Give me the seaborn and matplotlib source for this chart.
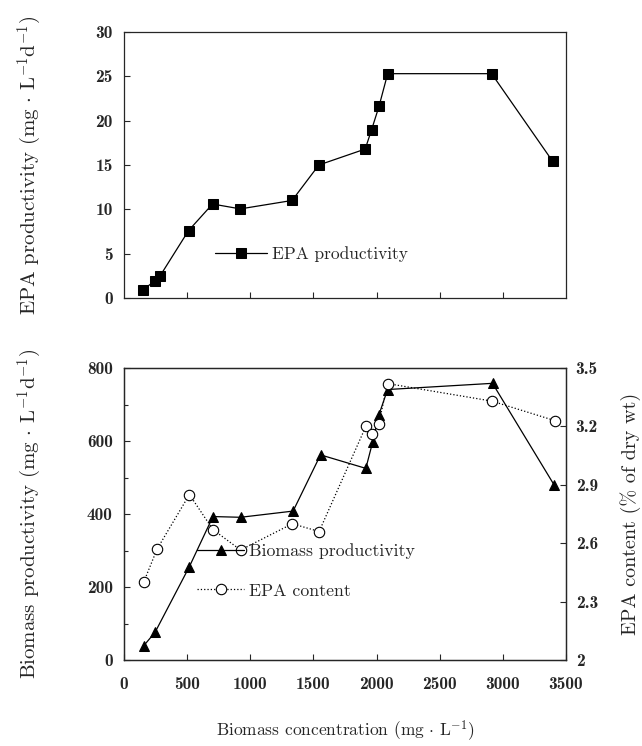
import numpy as np
import matplotlib
matplotlib.use("Agg")
import matplotlib.pyplot as plt
from matplotlib.ticker import MultipleLocator
import seaborn as sns

# top panel: EPA productivity vs biomass concentration
epa_prod_x = [153, 246, 286, 511, 701, 921, 1331, 1543, 1910, 1961, 2019, 2088, 2911, 3395]
epa_prod_y = [0.95, 1.95, 2.5, 7.6, 10.6, 10.05, 11.0, 15.0, 16.8, 19.0, 21.6, 25.3, 25.3, 15.4]

# bottom panel: biomass productivity (left) and EPA content (right)
bio_x = [156, 246, 518, 704, 923, 1339, 1556, 1915, 1968, 2018, 2087, 2918, 3407]
bio_y = [39, 76, 256, 393, 391, 408, 562, 525, 596, 671, 741, 758, 479]
epa_cont_x = [156, 262, 518, 704, 923, 1333, 1545, 1915, 1960, 2016, 2087, 2913, 3410]
epa_cont_y = [2.40, 2.57, 2.85, 2.67, 2.565, 2.70, 2.66, 3.20, 3.16, 3.21, 3.42, 3.33, 3.23]

x_ticks = [0, 500, 1000, 1500, 2000, 2500, 3000, 3500]
top_y_ticks = [0, 5, 10, 15, 20, 25, 30]
left_y_ticks = [0, 200, 400, 600, 800]
right_y_ticks = [2.0, 2.3, 2.6, 2.9, 3.2, 3.5]
right_y_labels = ["2", "2.3", "2.6", "2.9", "3.2", "3.5"]

sns.set_style("ticks")
plt.rcParams["font.family"] = ["cmr10", "DejaVu Serif"]
plt.rcParams["mathtext.fontset"] = "cm"
plt.rcParams["axes.formatter.use_mathtext"] = True
plt.rcParams["axes.linewidth"] = 0.9

tick_font = {"family": "cmb10", "size": 12.5}
dot = r"$\,\cdot\,$"

fig = plt.figure(figsize=(6.42, 7.46), dpi=100)
ax_top = fig.add_axes([124 / 642, 1 - 298 / 746, 442 / 642, 266 / 746])
ax_bot = fig.add_axes([124 / 642, 1 - 660 / 746, 442 / 642, 292 / 746])

## top panel
sns.lineplot(x=epa_prod_x, y=epa_prod_y, ax=ax_top, color="k", marker="s",
             markersize=7, markeredgecolor="k", linewidth=0.9,
             sort=False, estimator=None, label="EPA productivity")
ax_top.set_xlim(0, 3500)
ax_top.set_ylim(0, 30)
ax_top.set_xticks(x_ticks[1:-1])
ax_top.set_xticklabels([])
ax_top.set_yticks(top_y_ticks)
ax_top.set_yticklabels([str(t) for t in top_y_ticks], fontdict=tick_font)
ax_top.tick_params(direction="in", length=4, width=0.8, pad=8)
ax_top.set_xlabel("")
ax_top.set_ylabel("EPA productivity (mg" + dot + r"L$^{-1}$d$^{-1}$)", fontsize=15)
ax_top.yaxis.set_label_coords(-0.18, 0.5)
ax_top.legend(loc="center left", bbox_to_anchor=(0.17, 0.165), frameon=False,
              fontsize=12.5, handlelength=3.0, handletextpad=0.3)

## bottom panel
sns.lineplot(x=bio_x, y=bio_y, ax=ax_bot, color="k", marker="^",
             markersize=7, markeredgecolor="k", linewidth=0.9,
             sort=False, estimator=None, label="Biomass productivity", legend=False)
ax_r = ax_bot.twinx()
sns.lineplot(x=epa_cont_x, y=epa_cont_y, ax=ax_r, color="k", marker="o",
             markersize=7.5, markerfacecolor="white", markeredgecolor="k",
             markeredgewidth=0.8, linewidth=0.9, linestyle=":",
             sort=False, estimator=None, label="EPA content", legend=False)

ax_bot.set_xlim(0, 3500)
ax_bot.set_ylim(0, 800)
ax_bot.set_xticks(x_ticks)
ax_bot.set_xticklabels([str(t) for t in x_ticks], fontdict=tick_font)
ax_bot.set_yticks(left_y_ticks)
ax_bot.set_yticklabels([str(t) for t in left_y_ticks], fontdict=tick_font)
ax_bot.yaxis.set_minor_locator(MultipleLocator(100))
ax_bot.tick_params(which="both", direction="in", width=0.8)
ax_bot.tick_params(axis="y", which="major", length=4, pad=8)
ax_bot.tick_params(axis="y", which="minor", length=3)
ax_bot.tick_params(axis="x", length=4, pad=12)
ax_bot.set_xlabel("Biomass concentration (mg" + dot + r"L$^{-1}$)", fontsize=12.5, labelpad=19)
ax_bot.set_ylabel("Biomass productivity (mg" + dot + r"L$^{-1}$d$^{-1}$)", fontsize=15)
ax_bot.yaxis.set_label_coords(-0.18, 0.5)

ax_r.set_ylim(2.0, 3.5)
ax_r.set_yticks(right_y_ticks)
ax_r.set_yticklabels(right_y_labels, fontdict=tick_font)
ax_r.tick_params(direction="in", length=4, width=0.8, pad=7)
ax_r.set_ylabel("EPA content (% of dry wt)", fontsize=14.5, rotation=90)
ax_r.yaxis.set_label_coords(1.122, 0.5)

h1, l1 = ax_bot.get_legend_handles_labels()
h2, l2 = ax_r.get_legend_handles_labels()
ax_r.legend(h1 + h2, l1 + l2, loc="center left", bbox_to_anchor=(0.13, 0.305),
            frameon=False, fontsize=12.8, handlelength=2.6, handletextpad=0.3,
            labelspacing=1.35)

fig.savefig("out.png", dpi=100)
